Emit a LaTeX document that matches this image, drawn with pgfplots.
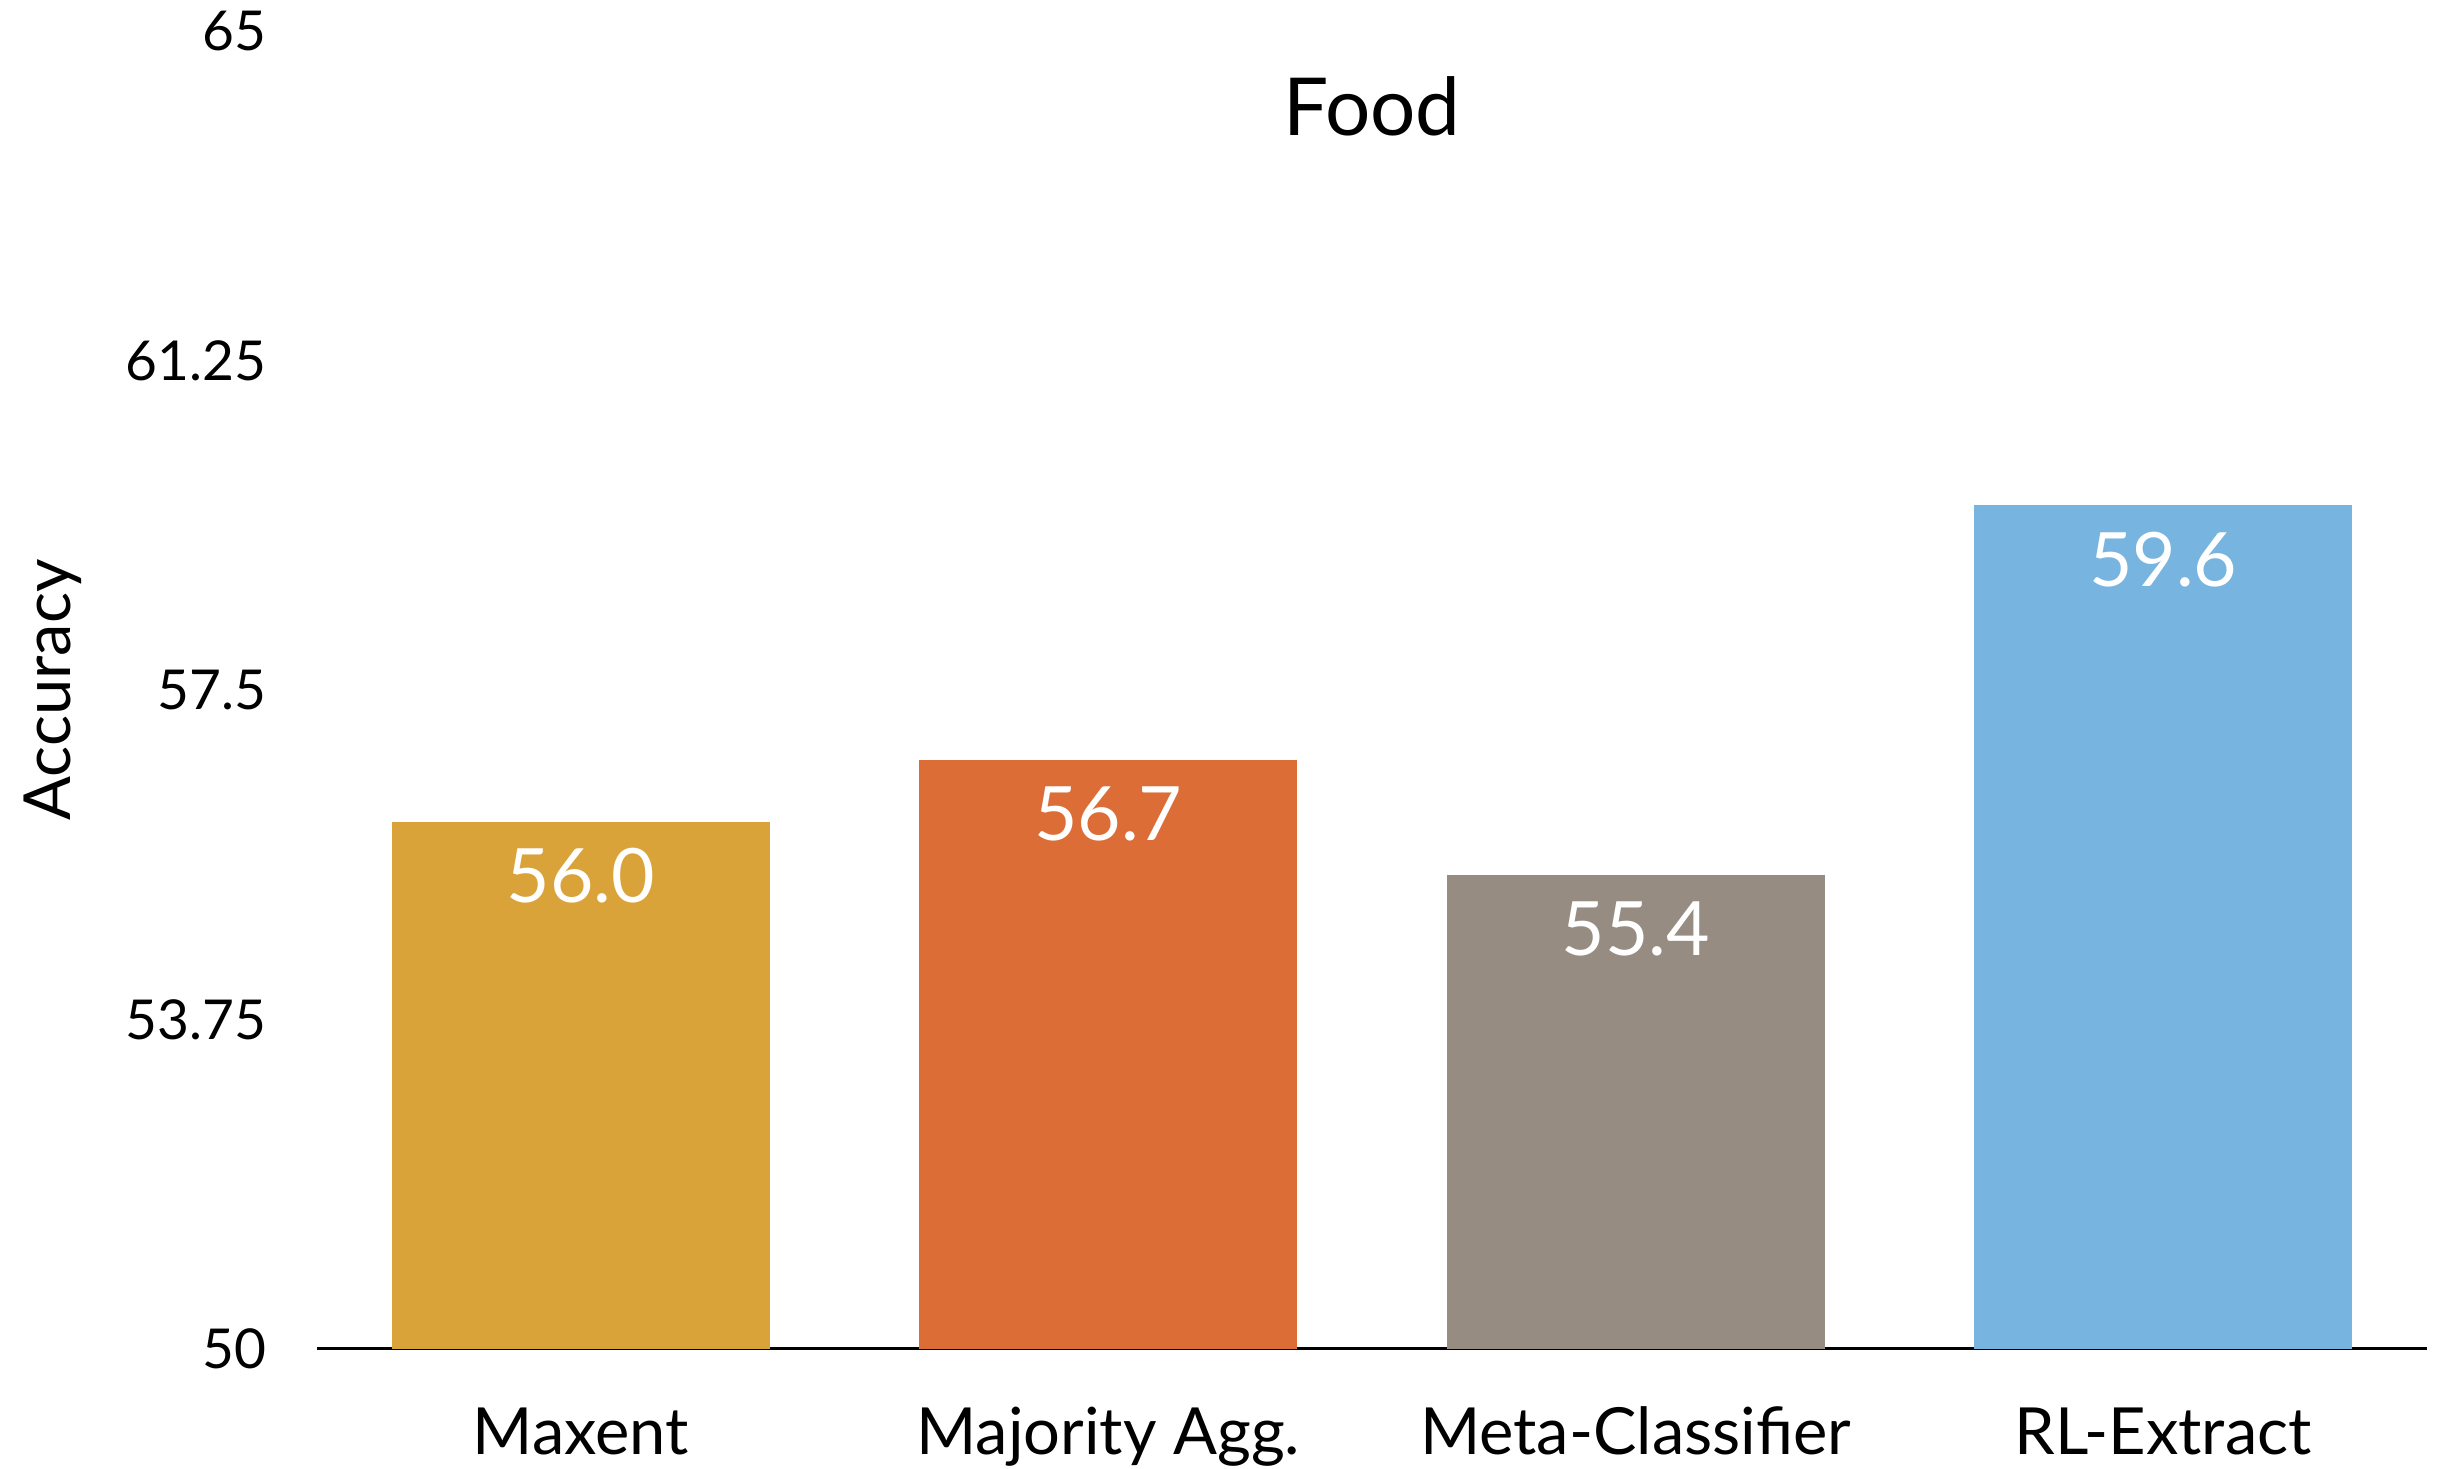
\documentclass[border=0pt]{standalone}
\usepackage{fontspec}
\setmainfont{Lato}
\usepackage{pgfplots}
\pgfplotsset{compat=1.18}
\definecolor{cMax}{HTML}{DAA33A}
\definecolor{cMaj}{HTML}{DC6D37}
\definecolor{cMeta}{HTML}{968C82}
\definecolor{cRL}{HTML}{77B5E0}
\begin{document}
\begin{tikzpicture}
\path[use as bounding box] (-63.4pt,-24pt) rectangle (424.6pt,269.8pt);
\begin{axis}[
  at={(0,0)}, anchor=south west,
  scale only axis, width=422pt, height=263.6pt,
  ybar, bar shift=0pt, bar width=0.717,
  xmin=-0.5, xmax=3.5, ymin=50, ymax=65,
  xtick={0,1,2,3},
  xticklabels={Maxent, Majority Agg., Meta-Classifier, RL-Extract},
  ytick={50,53.75,57.5,61.25,65},
  yticklabels={50,53.75,57.5,61.25,65},
  axis x line*=bottom, axis y line*=left,
  x axis line style={line width=0.6pt, -},
  y axis line style={draw=none},
  major tick length=0pt, tick style={draw=none},
  xticklabel style={font=\fontsize{13}{15}\selectfont, anchor=base, inner sep=0pt, yshift=-21.2pt},
  yticklabel style={font=\fontsize{11}{13}\selectfont, anchor=east, inner sep=0pt, xshift=-10pt},
  ylabel={Accuracy},
  ylabel style={at={(rel axis cs:-0.125,0.5)}, anchor=center, font=\fontsize{13}{15}\selectfont},
  title={Food},
  every axis title shift=0pt,
  title style={at={(rel axis cs:0.5,0.943)}, anchor=center, font=\fontsize{16}{19}\selectfont},
  /pgf/number format/assume math mode=true,
  nodes near coords={\pgfmathprintnumber[fixed,fixed zerofill,precision=1]{\pgfplotspointmeta}},
  every node near coord/.style={anchor=center, yshift=-10.8pt, text=white, font=\fontsize{15}{18}\selectfont},
  clip=false,
]
\addplot[fill=cMax, draw=none] coordinates {(0,56.0)};
\addplot[fill=cMaj, draw=none] coordinates {(1,56.7)};
\addplot[fill=cMeta, draw=none] coordinates {(2,55.4)};
\addplot[fill=cRL, draw=none] coordinates {(3,59.6)};
\end{axis}
\end{tikzpicture}
\end{document}
